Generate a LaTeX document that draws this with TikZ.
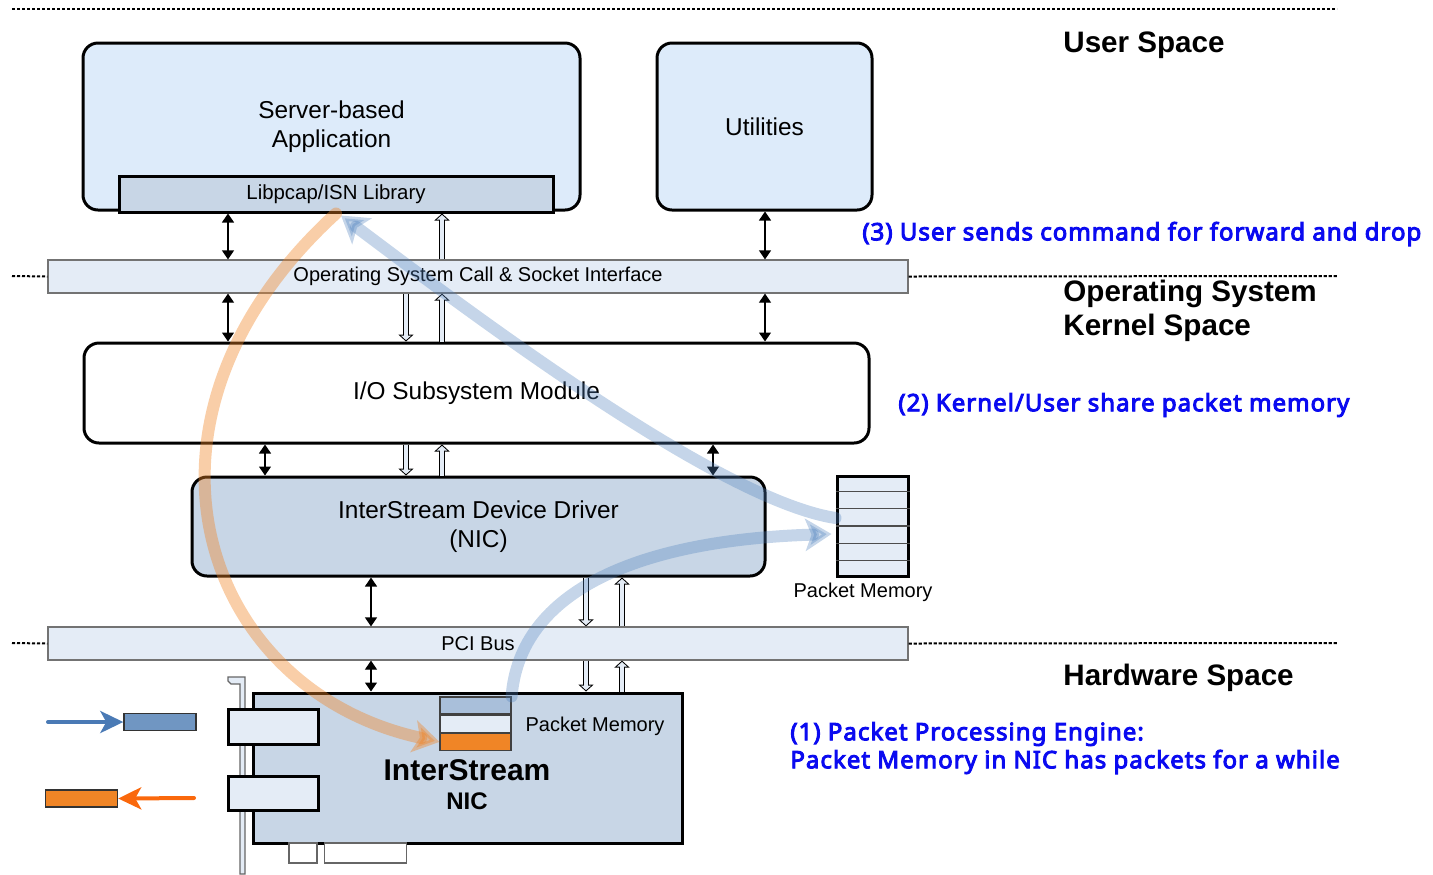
\documentclass[tikz,border=0pt]{standalone}
\usepackage{fontspec}
\setmainfont{Liberation Sans}
\newfontfamily\notefont{Noto Sans}[AutoFakeBold=4,LetterSpace=4.3]
\usetikzlibrary{arrows.meta,positioning,calc}

\newdimen\pxu \pxu=0.5pt
\definecolor{appblue}{RGB}{221,235,250}
\definecolor{drvblue}{RGB}{200,214,230}
\definecolor{barblue}{RGB}{228,236,246}
\definecolor{pmtop}{RGB}{169,191,218}
\definecolor{pkorange}{RGB}{240,133,38}
\definecolor{inblue}{RGB}{112,150,194}
\definecolor{inarrow}{RGB}{74,122,181}
\definecolor{outarrow}{RGB}{250,104,12}
\definecolor{flowblue}{RGB}{79,129,189}
\definecolor{noteblue}{RGB}{10,10,240}

\tikzset{
  box/.style={draw, line width=1.5pt, rounded corners=7.5pt, align=center,
    font=\fontsize{12.2}{14.5}\selectfont},
  bar/.style={draw=black!55, line width=0.6pt, fill=barblue,
    font=\fontsize{10}{12}\selectfont},
  part/.style={draw, line width=1.5pt, fill=barblue},
  cell/.style={draw=black!75, line width=0.6pt, minimum width=71\pxu, minimum height=17\pxu, inner sep=0pt},
  label/.style={inner sep=0pt, font=\fontsize{10}{12}\selectfont},
  space/.style={inner sep=0pt, anchor=west, align=left, font=\fontsize{14.8}{17}\selectfont\bfseries},
  note/.style={inner sep=0pt, anchor=west, align=left, text=noteblue,
    font=\notefont\bfseries\fontsize{12}{14}\selectfont},
  sep/.style={line width=1pt, dash pattern=on 1.6pt off 0.9pt},
  dblarr/.style={line width=0.6pt, {Triangle[length=4.5pt,width=6pt]}-{Triangle[length=4.5pt,width=6pt]}},
  hollowarr/.style={draw=barblue, line width=2pt, shorten >=0.7pt, -{Triangle[length=2.3pt,width=5pt]},
    preaction={draw=black, line width=3pt, shorten >=0pt, -{Triangle[length=3.5pt,width=7.5pt]}}},
  flow/.style={line width=6pt, line cap=round, draw opacity=0.33, fill opacity=0.33,
    -{Stealth[length=13pt,width=16pt,inset=3pt]}}
}

\begin{document}
\begin{tikzpicture}[x=0.5pt,y=-0.5pt]
  \useasboundingbox (0,0) rectangle (1433,874);

  % space separators
  \draw[sep] (12,9) -- (1337,9);

  % user space
  \node[box, fill=appblue, minimum width=497\pxu, minimum height=167\pxu] (app) at (331.5,126.5) {Server-based\\Application};
  \node[box, fill=drvblue, rounded corners=0pt, font=\fontsize{10.2}{12}\selectfont,
    minimum width=434\pxu, minimum height=36\pxu, inner sep=0pt] (lib) at (336,194) {Libpcap/ISN Library};
  \node[box, fill=appblue, minimum width=215\pxu, minimum height=167\pxu] (util) at (764.5,126.5) {Utilities};

  % kernel space
  \node[bar, minimum width=860\pxu, minimum height=33\pxu] (oscall) at (478,276.5) {Operating System Call \& Socket Interface};
  \draw[sep] (12,276) -- (oscall.west);
  \draw[sep] (oscall.east) -- (1337,276);
  \node[box, fill=white, minimum width=785\pxu, minimum height=100\pxu] (io) at (476.5,393) {I/O Subsystem Module};
  \node[box, fill=drvblue, minimum width=573\pxu, minimum height=99\pxu] (drv) at (478.5,526.5) {InterStream Device Driver\\(NIC)};

  \node[draw, line width=1.5pt, fill=barblue, minimum width=71\pxu, minimum height=100\pxu] (pmem) at (872.5,526) {};
  \foreach \i in {1,...,5}
    \draw[black!70, line width=0.6pt] ($(pmem.north west)!\i/6!(pmem.south west)$) -- ($(pmem.north east)!\i/6!(pmem.south east)$);
  \node[label] (pmlabel) at (863,592) {Packet Memory};

  % hardware space
  \node[bar, minimum width=860\pxu, minimum height=33\pxu] (pci) at (478,643.5) {PCI Bus};
  \draw[sep] (12,643) -- (pci.west);
  \draw[sep] (pci.east) -- (1337,643);

  \draw[draw=black!60, fill=barblue, line width=0.6pt] (228,677) -- (245,677) -- (245,874) -- (240,874)
    -- (240,684) -- (231,684) -- (228,681) -- cycle;
  \node[draw, line width=1.5pt, fill=drvblue, minimum width=429\pxu, minimum height=150\pxu] (nic) at (467.5,768) {};
  \node[part, minimum width=90\pxu, minimum height=35\pxu] (port1) at (273,726.5) {};
  \node[part, minimum width=90\pxu, minimum height=34\pxu] (port2) at (273,793) {};
  \node[draw=black!60, fill=white, line width=0.6pt, minimum width=28\pxu, minimum height=20\pxu] (pin1) at (303,853) {};
  \node[draw=black!60, fill=white, line width=0.6pt, minimum width=82\pxu, minimum height=20\pxu] (pin2) at (365.5,853) {};

  \node[cell, fill=pmtop] (nicpma) at (475.5,705.5) {};
  \node[cell, fill=barblue, below=0pt of nicpma] (nicpmb) {};
  \node[cell, fill=pkorange, below=0pt of nicpmb] (nicpmc) {};
  \node[label] (niclabel) at (595,726) {Packet Memory};
  \node[inner sep=0pt, font=\fontsize{15}{17}\selectfont\bfseries] (nicname) at (467,770) {InterStream};
  \node[inner sep=0pt, font=\fontsize{12}{14}\selectfont\bfseries] (nictype) at (467,801) {NIC};

  \node[draw=black!80, line width=0.7pt, fill=inblue, minimum width=72\pxu, minimum height=17\pxu] (inpkt) at (160,722) {};
  \node[draw=black!80, line width=0.7pt, fill=pkorange, minimum width=72\pxu, minimum height=17\pxu] (outpkt) at (81.5,798.5) {};
  \coordinate (insrc) at (48,722);
  \coordinate (outdst) at (194,798);
  \draw[inarrow, line width=2pt, line cap=round, -{Stealth[length=11.5pt,width=11pt,inset=3pt]}] (insrc) -- (inpkt.west);
  \draw[outarrow, line width=2pt, line cap=round, -{Stealth[length=11.5pt,width=11pt,inset=3pt]}] (outdst) -- (outpkt.east);

  % connectors between layers
  \coordinate (xa) at (228,0);
  \coordinate (xb) at (765,0);
  \coordinate (xc) at (406,0);
  \coordinate (xd) at (442,0);
  \coordinate (xe) at (265,0);
  \coordinate (xf) at (713,0);
  \coordinate (xg) at (371,0);
  \coordinate (xh) at (586,0);
  \coordinate (xi) at (622,0);

  \draw[dblarr] (lib.south -| xa) -- (oscall.north -| xa);
  \draw[dblarr] (oscall.south -| xa) -- (io.north -| xa);
  \draw[dblarr] (util.south -| xb) -- (oscall.north -| xb);
  \draw[dblarr] (oscall.south -| xb) -- (io.north -| xb);
  \draw[dblarr] (io.south -| xe) -- (drv.north -| xe);
  \draw[dblarr] (io.south -| xf) -- (drv.north -| xf);
  \draw[dblarr] (drv.south -| xg) -- (pci.north -| xg);
  \draw[dblarr] (pci.south -| xg) -- (nic.north -| xg);

  \draw[hollowarr] (oscall.north -| xd) -- (lib.south -| xd);
  \draw[hollowarr] (oscall.south -| xc) -- (io.north -| xc);
  \draw[hollowarr] (io.north -| xd) -- (oscall.south -| xd);
  \draw[hollowarr] (io.south -| xc) -- (drv.north -| xc);
  \draw[hollowarr] (drv.north -| xd) -- (io.south -| xd);
  \draw[hollowarr] (drv.south -| xh) -- (pci.north -| xh);
  \draw[hollowarr] (pci.north -| xi) -- (drv.south -| xi);
  \draw[hollowarr] (pci.south -| xh) -- (nic.north -| xh);
  \draw[hollowarr] (nic.north -| xi) -- (pci.south -| xi);

  % packet flows
  \draw[flow, flowblue] (nicpma.north east) .. controls (520,590) and (640,540) .. ($(pmem.west)+(-4,8)$);
  \draw[flow, flowblue] ($(pmem.west)+(0,-8)$) .. controls (720,500) and (480,320) .. ($(lib.south)+(5,2)$);
  \draw[flow, pkorange, draw opacity=0.4, fill opacity=0.4] (lib.south) .. controls (110,420) and (200,690) .. (nicpmc.west);

  % labels
  \node[space] (userlbl) at (1063,45) {User Space};
  \node[space] (kernlbl) at (1063,311) {Operating System\\Kernel Space};
  \node[space] (hwlbl) at (1063,678) {Hardware Space};
  \node[note] (note3) at (862,234) {(3) User sends command for forward and drop};
  \node[note] (note2) at (898,405) {(2) Kernel/User share packet memory};
  \node[note] (note1) at (790,748) {(1) Packet Processing Engine:\\Packet Memory in NIC has packets for a while};
\end{tikzpicture}
\end{document}
